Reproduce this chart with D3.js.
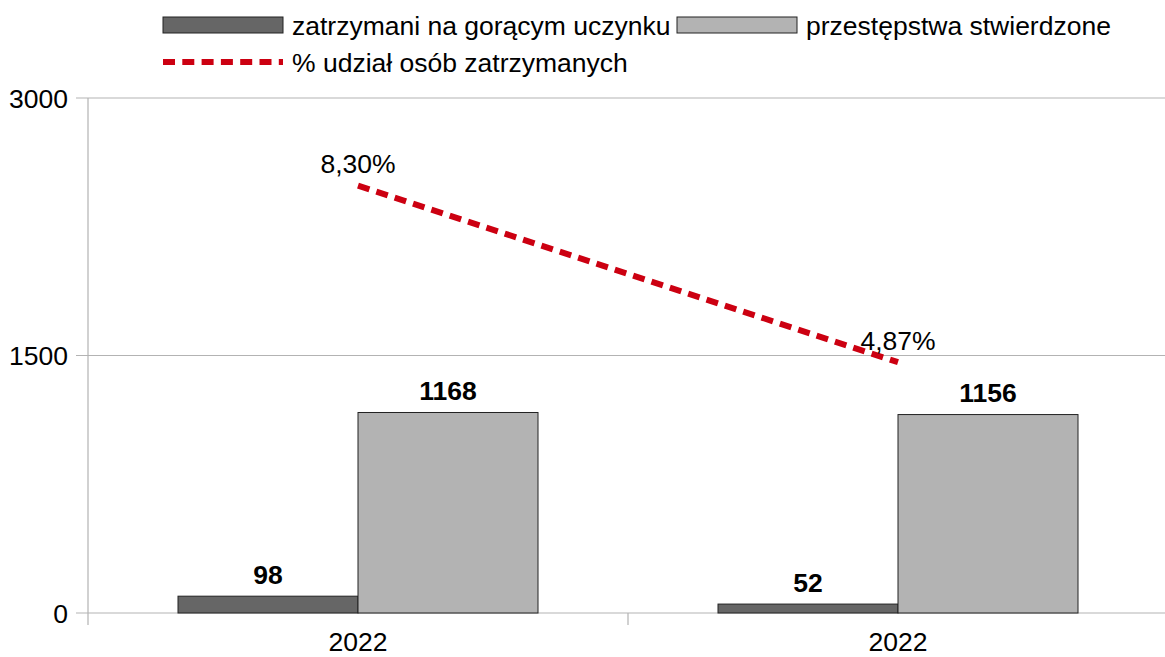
<!DOCTYPE html>
<html>
<head>
<meta charset="utf-8">
<script src="https://cdn.jsdelivr.net/npm/d3@7"></script>
<style>
  body { margin: 0; background: #fff; }
  svg { font-family: "Liberation Sans", Arial, sans-serif; }
</style>
</head>
<body>
<svg id="chart" width="1165" height="657"></svg>
<script>
const categories = ["2022", "2022"];
const caughtValues = [98, 52];
const reportedValues = [1168, 1156];
const shareValues = [8.30, 4.87];
const yTicks = [0, 1500, 3000];
const seriesNames = ["zatrzymani na gorącym uczynku", "przestępstwa stwierdzone", "% udział osób zatrzymanych"];

const DARK = "#666666";
const LIGHT = "#b3b3b3";
const RED = "#cc0011";
const GRID = "#b3b3b3";
const FONT_SIZE = 26.5;
const DASH = "12 7.3";

const svg = d3.select("#chart");
const plotLeft = 88;
const plotRight = 1168;
const plotTop = 98;
const plotBottom = 613;

const x = d3.scaleBand().domain(d3.range(categories.length)).range([plotLeft, plotRight]);
const y = d3.scaleLinear().domain([0, 3000]).range([plotBottom, plotTop]);
const y2 = d3.scaleLinear().domain([0, 10]).range([plotBottom, plotTop]);
const barWidth = x.bandwidth() / 3;
const gap = (x.bandwidth() - 2 * barWidth) / 2;

const formatPercent = (value) => value.toFixed(2).replace(".", ",") + "%";

// gridlines and y labels
svg.append("g")
  .selectAll("line")
  .data(yTicks)
  .join("line")
  .attr("x1", plotLeft - 12)
  .attr("x2", plotRight)
  .attr("y1", (d) => y(d))
  .attr("y2", (d) => y(d))
  .attr("stroke", GRID)
  .attr("stroke-width", 1.2);

svg.append("g")
  .selectAll("text")
  .data(yTicks)
  .join("text")
  .attr("x", 68)
  .attr("y", (d) => y(d))
  .attr("dy", "0.36em")
  .attr("text-anchor", "end")
  .attr("font-size", FONT_SIZE)
  .text((d) => d);

// vertical axis and category ticks
svg.append("line")
  .attr("x1", plotLeft).attr("x2", plotLeft)
  .attr("y1", plotTop).attr("y2", plotBottom + 12)
  .attr("stroke", GRID)
  .attr("stroke-width", 1.2);

svg.append("g")
  .selectAll("line")
  .data(d3.range(1, categories.length))
  .join("line")
  .attr("x1", (d) => x(d))
  .attr("x2", (d) => x(d))
  .attr("y1", plotBottom)
  .attr("y2", plotBottom + 12)
  .attr("stroke", GRID)
  .attr("stroke-width", 1.2);

svg.append("g")
  .selectAll("text")
  .data(categories)
  .join("text")
  .attr("x", (d, i) => x(i) + x.bandwidth() / 2)
  .attr("y", 641)
  .attr("dy", "0.36em")
  .attr("text-anchor", "middle")
  .attr("font-size", FONT_SIZE)
  .text((d) => d);

// bars
const series = [
  { values: caughtValues, fill: DARK, offset: gap },
  { values: reportedValues, fill: LIGHT, offset: gap + barWidth }
];

for (const item of series) {
  svg.append("g")
    .selectAll("rect")
    .data(item.values)
    .join("rect")
    .attr("x", (d, i) => x(i) + item.offset)
    .attr("y", (d) => y(d))
    .attr("width", barWidth)
    .attr("height", (d) => plotBottom - y(d))
    .attr("fill", item.fill)
    .attr("stroke", "#222")
    .attr("stroke-width", 1);

  svg.append("g")
    .selectAll("text")
    .data(item.values)
    .join("text")
    .attr("x", (d, i) => x(i) + item.offset + barWidth / 2)
    .attr("y", (d) => y(d) - 22)
    .attr("dy", "0.36em")
    .attr("text-anchor", "middle")
    .attr("font-size", FONT_SIZE)
    .attr("font-weight", "bold")
    .text((d) => d);
}

// percentage line
const line = d3.line()
  .x((d, i) => x(i) + x.bandwidth() / 2)
  .y((d) => y2(d));

svg.append("path")
  .datum(shareValues)
  .attr("d", line)
  .attr("fill", "none")
  .attr("stroke", RED)
  .attr("stroke-width", 6)
  .attr("stroke-dasharray", DASH);

svg.append("g")
  .selectAll("text")
  .data(shareValues)
  .join("text")
  .attr("x", (d, i) => x(i) + x.bandwidth() / 2)
  .attr("y", (d) => y2(d) - 22)
  .attr("dy", "0.36em")
  .attr("text-anchor", "middle")
  .attr("font-size", FONT_SIZE)
  .text((d) => formatPercent(d));

// legend
const legend = svg.append("g");
const legendItems = [
  { name: seriesNames[0], type: "bar", fill: DARK, x: 163, y: 25 },
  { name: seriesNames[1], type: "bar", fill: LIGHT, x: 677, y: 25 },
  { name: seriesNames[2], type: "line", fill: RED, x: 163, y: 62 }
];

for (const item of legendItems) {
  if (item.type === "bar") {
    legend.append("rect")
      .attr("x", item.x)
      .attr("y", item.y - 8)
      .attr("width", 120)
      .attr("height", 16)
      .attr("fill", item.fill)
      .attr("stroke", "#222")
      .attr("stroke-width", 1);
  } else {
    legend.append("line")
      .attr("x1", item.x)
      .attr("x2", item.x + 120)
      .attr("y1", item.y)
      .attr("y2", item.y)
      .attr("stroke", item.fill)
      .attr("stroke-width", 6)
      .attr("stroke-dasharray", DASH);
  }

  legend.append("text")
    .attr("x", item.x + 129)
    .attr("y", item.y)
    .attr("dy", "0.36em")
    .attr("font-size", FONT_SIZE)
    .text(item.name);
}
</script>
</body>
</html>
